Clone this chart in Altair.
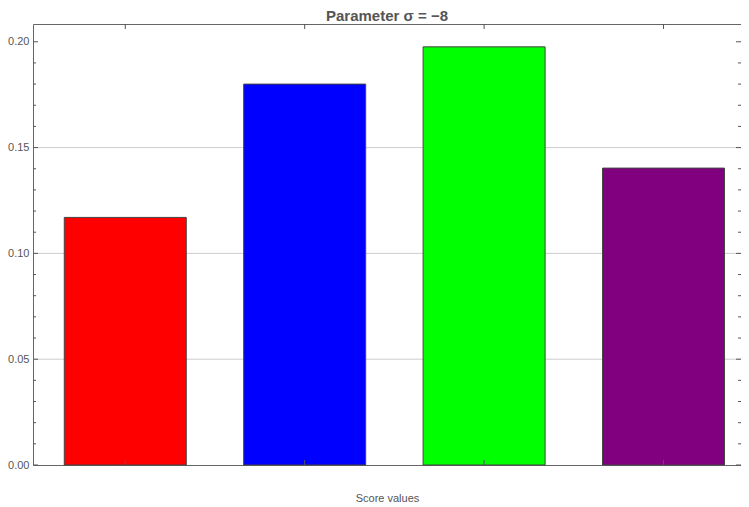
import altair as alt
import pandas as pd

categories = ["1", "2", "3", "4"]
positions = [1, 2, 3, 4]
values = [0.117, 0.180, 0.1976, 0.1403]
colors = ["#FF0000", "#0000FF", "#00FF00", "#800080"]
major_ticks = [0.0, 0.05, 0.10, 0.15, 0.20]
minor_ticks = [0.01, 0.02, 0.03, 0.04, 0.06, 0.07, 0.08, 0.09,
               0.11, 0.12, 0.13, 0.14, 0.16, 0.17, 0.18, 0.19]
grid_values = [0.05, 0.10, 0.15]
title_text = ["Parameter σ = −8"]

W, H = 708, 441
xdom = [0.5136, 4.404]
ydom = [0.0, 0.2084]

bars_df = pd.DataFrame({"cat": categories, "pos": positions, "value": values, "color": colors})
major_df = pd.DataFrame({"v": major_ticks})
minor_df = pd.DataFrame({"v": minor_ticks})
grid_df = pd.DataFrame({"v": grid_values})
xt_df = pd.DataFrame({"pos": positions})
title_df = pd.DataFrame({"t": title_text})

xs = alt.Scale(domain=xdom, nice=False, zero=False)
ys = alt.Scale(domain=ydom, nice=False, zero=False)

grid = alt.Chart(grid_df).mark_rule(color="#cccccc", strokeWidth=1).encode(
    y=alt.Y("v:Q", scale=ys,
            axis=alt.Axis(title=None, values=major_ticks, format=".2f", tickSize=0,
                          labelColor="#555555", labelFontSize=11, labelPadding=4,
                          labelFont="Liberation Sans", domain=False, grid=False)),
    x=alt.value(0), x2=alt.value(W),
)

bars = alt.Chart(bars_df).mark_bar(size=122, stroke="#444444", strokeWidth=1).encode(
    x=alt.X("pos:Q", scale=xs,
            axis=alt.Axis(title="Score values", labels=False, ticks=False, domain=False,
                          grid=False, titleColor="#555555", titleFontSize=11,
                          titleFontWeight="normal", titleFont="Liberation Sans",
                          titlePadding=27)),
    y=alt.Y("value:Q", scale=ys),
    color=alt.Color("color:N", scale=None),
)

tick_color = "#555555"
left_major = alt.Chart(major_df).mark_rule(color=tick_color).encode(
    y=alt.Y("v:Q", scale=ys), x=alt.value(0), x2=alt.value(5))
left_minor = alt.Chart(minor_df).mark_rule(color=tick_color).encode(
    y=alt.Y("v:Q", scale=ys), x=alt.value(0), x2=alt.value(3))
right_major = alt.Chart(major_df).mark_rule(color=tick_color).encode(
    y=alt.Y("v:Q", scale=ys), x=alt.value(W - 5), x2=alt.value(W))
right_minor = alt.Chart(minor_df).mark_rule(color=tick_color).encode(
    y=alt.Y("v:Q", scale=ys), x=alt.value(W - 3), x2=alt.value(W))
top_ticks = alt.Chart(xt_df).mark_rule(color=tick_color).encode(
    x=alt.X("pos:Q", scale=xs), y=alt.value(0), y2=alt.value(5))
bottom_ticks = alt.Chart(xt_df).mark_rule(color=tick_color).encode(
    x=alt.X("pos:Q", scale=xs), y=alt.value(H - 5), y2=alt.value(H))

title = alt.Chart(title_df).mark_text(
    fontSize=15, fontWeight="bold", color="#555555", font="Liberation Sans",
    baseline="alphabetic", align="center"
).encode(text="t:N", x=alt.value(W / 2), y=alt.value(-3))

chart = alt.layer(
    grid, bars, left_major, left_minor, right_major, right_minor, top_ticks, bottom_ticks, title
).properties(
    width=W, height=H,
    autosize=alt.AutoSizeParams(type="none"),
    padding={"left": 25, "top": 16, "right": 0, "bottom": 40},
).configure_view(stroke="#666666", strokeWidth=1)

chart.save("out.html", embed_options={"renderer": "svg", "actions": False})
